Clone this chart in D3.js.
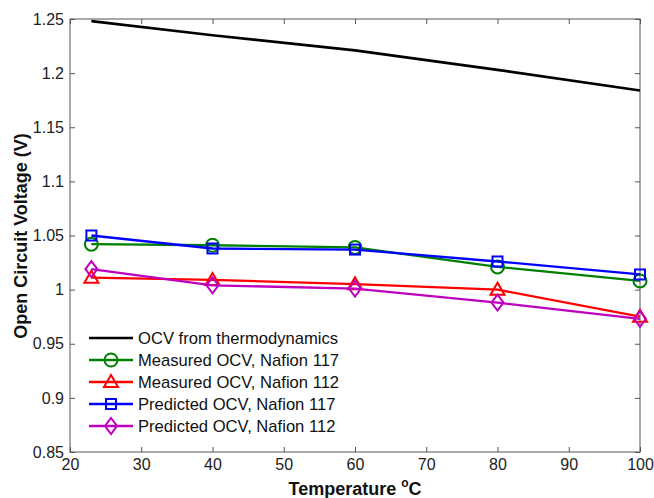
<!DOCTYPE html>
<html><head><meta charset="utf-8">
<script src="https://cdn.jsdelivr.net/npm/d3@7"></script>
<style>
body{margin:0;background:#fff;}
svg{display:block;font-family:"Liberation Sans",Arial,sans-serif;}
</style></head>
<body>
<svg id="chart" width="654" height="498"></svg>
<script>
const temps = [23, 40, 60, 80, 100];
const ocvThermo = [1.248, 1.235, 1.221, 1.203, 1.184];
const measured117 = [1.042, 1.041, 1.039, 1.021, 1.008];
const measured112 = [1.011, 1.009, 1.005, 1.000, 0.975];
const predicted117 = [1.050, 1.038, 1.037, 1.026, 1.014];
const predicted112 = [1.019, 1.004, 1.001, 0.988, 0.973];
const xTicks = [20, 30, 40, 50, 60, 70, 80, 90, 100];
const yTicks = [0.85, 0.9, 0.95, 1, 1.05, 1.1, 1.15, 1.2, 1.25];

const series = [
  {name: "OCV from thermodynamics", values: ocvThermo, color: "#000000", marker: "none"},
  {name: "Measured OCV, Nafion 117", values: measured117, color: "#008000", marker: "circle"},
  {name: "Measured OCV, Nafion 112", values: measured112, color: "#ff0000", marker: "triangle"},
  {name: "Predicted OCV, Nafion 117", values: predicted117, color: "#0000ff", marker: "square"},
  {name: "Predicted OCV, Nafion 112", values: predicted112, color: "#bf00bf", marker: "diamond"}
];

const svg = d3.select("#chart");
const L = 70, R = 640, T = 19, B = 452;
const x = d3.scaleLinear().domain([20, 100]).range([L, R]);
const y = d3.scaleLinear().domain([0.85, 1.25]).range([B, T]);
const axisColor = "#555";

svg.append("rect").attr("x", L).attr("y", T).attr("width", R - L).attr("height", B - T)
  .attr("fill", "none").attr("stroke", axisColor).attr("stroke-width", 1);

const fmtY = d => String(+d.toFixed(2));
const gx = svg.append("g").attr("transform", `translate(0,${B})`)
  .call(d3.axisBottom(x).tickValues(xTicks).tickSize(-5).tickPadding(7).tickFormat(d3.format("d")));
const gxt = svg.append("g").attr("transform", `translate(0,${T})`)
  .call(d3.axisTop(x).tickValues(xTicks).tickSize(-5).tickFormat(""));
const gy = svg.append("g").attr("transform", `translate(${L},0)`)
  .call(d3.axisLeft(y).tickValues(yTicks).tickSize(-5).tickPadding(6).tickFormat(fmtY));
const gyr = svg.append("g").attr("transform", `translate(${R},0)`)
  .call(d3.axisRight(y).tickValues(yTicks).tickSize(-5).tickFormat(""));
[gx, gxt, gy, gyr].forEach(g => {
  g.select(".domain").remove();
  g.selectAll(".tick line").attr("stroke", axisColor);
  g.selectAll(".tick text").attr("fill", "#222").style("font-size", "16px")
    .style("font-family", "'Liberation Sans',Arial,sans-serif");
});

const line = d3.line().x((d, i) => x(temps[i])).y(d => y(d));

function drawMarker(g, type, cx, cy, color) {
  if (type === "circle") {
    g.append("circle").attr("cx", cx).attr("cy", cy).attr("r", 6.5)
      .attr("fill", "none").attr("stroke", color).attr("stroke-width", 2);
  } else if (type === "square") {
    g.append("rect").attr("x", cx - 5).attr("y", cy - 5).attr("width", 10).attr("height", 10)
      .attr("fill", "none").attr("stroke", color).attr("stroke-width", 2);
  } else if (type === "triangle") {
    g.append("path").attr("d", `M${cx},${cy - 7}L${cx + 7},${cy + 5}L${cx - 7},${cy + 5}Z`)
      .attr("fill", "none").attr("stroke", color).attr("stroke-width", 2);
  } else if (type === "diamond") {
    g.append("path").attr("d", `M${cx},${cy - 8}L${cx + 6},${cy}L${cx},${cy + 8}L${cx - 6},${cy}Z`)
      .attr("fill", "none").attr("stroke", color).attr("stroke-width", 2);
  }
}

series.forEach(s => {
  const g = svg.append("g");
  g.append("path").attr("d", line(s.values)).attr("fill", "none")
    .attr("stroke", s.color).attr("stroke-width", s.marker === "none" ? 2.6 : 2.3)
    .attr("stroke-linejoin", "round");
  if (s.marker !== "none") {
    s.values.forEach((v, i) => drawMarker(g, s.marker, x(temps[i]), y(v), s.color));
  }
});

const lg = svg.append("g");
series.forEach((s, i) => {
  const ly = 338 + i * 22;
  lg.append("line").attr("x1", 89).attr("x2", 133).attr("y1", ly).attr("y2", ly)
    .attr("stroke", s.color).attr("stroke-width", s.marker === "none" ? 2.6 : 2.3);
  if (s.marker !== "none") drawMarker(lg, s.marker, 111, ly, s.color);
  lg.append("text").attr("x", 138).attr("y", ly).attr("dy", "0.35em")
    .style("font-size", "16.6px").attr("fill", "#111").text(s.name);
});

const xl = svg.append("text").attr("x", 355).attr("y", 495).attr("text-anchor", "middle")
  .style("font-size", "18px").style("font-weight", "bold").attr("fill", "#111");
xl.append("tspan").text("Temperature ");
xl.append("tspan").attr("dy", -8).style("font-size", "12px").text("o");
xl.append("tspan").attr("dy", 8).text("C");

svg.append("text").attr("transform", "translate(27,236) rotate(-90)").attr("text-anchor", "middle")
  .style("font-size", "18px").style("font-weight", "bold").attr("fill", "#111")
  .text("Open Circuit Voltage (V)");
</script>
</body></html>
